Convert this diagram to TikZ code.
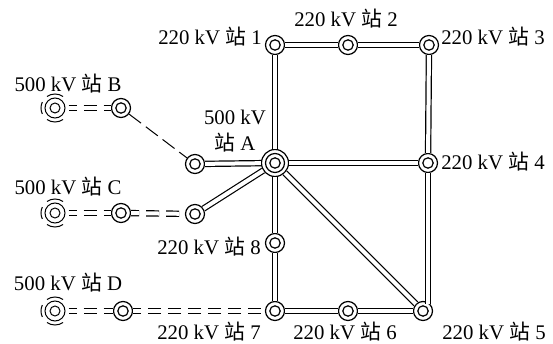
\documentclass[tikz,border=0pt]{standalone}
\usepackage{fontspec}
\setmainfont{Liberation Serif}
\newfontfamily\cjk{Noto Sans CJK SC}
\tikzset{
    station/.style={circle, draw, fill=white, line width=1.2pt, minimum size=19pt, inner sep=0pt,
        path picture={\draw[line width=1.2pt] (path picture bounding box.center) circle (5.2pt);}},
    hub/.style={circle, draw, fill=white, line width=1.2pt, minimum size=27pt, inner sep=0pt,
        path picture={\draw[line width=1.2pt] (path picture bounding box.center) circle (9.5pt);
                      \draw[line width=1.2pt] (path picture bounding box.center) circle (5.2pt);}},
    source/.style={circle, draw, fill=white, line width=1pt, minimum size=20pt, inner sep=0pt,
        path picture={\draw[line width=1pt] (path picture bounding box.center) circle (5pt);}},
    tag/.style={font=\fontsize{20.8}{26}\selectfont, inner sep=0pt, align=center},
    line220/.style={draw, line width=1.2pt, double, double distance=4pt},
    plan/.style={line220, dash pattern=on 13pt off 7pt, dash phase=5pt},
    link/.style={draw, line width=1pt, dash pattern=on 15pt off 6pt}
}
\begin{document}
\begin{tikzpicture}[x=1pt, y=-1pt]
    \useasboundingbox (0,0) rectangle (553,344);

    % Stations of the 220 kV ring
    \node[station] (s1) at (275,45) {};
    \node[station] (s2) at (348,45) {};
    \node[station] (s3) at (429,45) {};
    \node[station] (s4) at (428,163) {};
    \node[station] (s5) at (423,311) {};
    \node[station] (s6) at (348,311) {};
    \node[station] (s7) at (275,311) {};
    \node[station] (s8) at (275,243) {};
    \node[hub] (sA) at (275,163) {};
    \node[station] (jA) at (195,164) {};
    \node[station] (jC) at (195,214) {};

    % Outside 500 kV stations
    \node[source] (sB) at (55,108) {};
    \node[source] (sC) at (55,213) {};
    \node[source] (sD) at (55,311) {};
    \node[station] (mB) at (121,108) {};
    \node[station] (mC) at (121,213) {};
    \node[station] (mD) at (123,311) {};

    % Broken rings round the sources
    \foreach \src in {sB, sC, sD} {
        \draw[line width=1pt] (\src) ++(55:14pt) arc (55:125:14pt);
        \draw[line width=1pt] (\src) ++(155:14pt) arc (155:205:14pt);
        \draw[line width=1pt] (\src) ++(-125:14pt) arc (-125:-55:14pt);
    }

    % Existing lines
    \draw[line220] (s1) -- (s2);
    \draw[line220] (s2) -- (s3);
    \draw[line220] (s1) -- (sA);
    \draw[line220] (s3) -- (s4);
    \draw[line220] (sA) -- (s4);
    \draw[line220] (s4) -- (s4 |- s5.north east);
    \draw[line220] (sA) -- (s8);
    \draw[line220] (s8) -- (s7);
    \draw[line220] (s7) -- (s6);
    \draw[line220] (s6) -- (s5);
    \draw[line220] (sA) -- (s5);
    \draw[line220] (jA) -- (sA);
    \draw[line220] (jC) -- (sA);

    % Planned lines
    \draw[plan, shorten <=3pt] (sB) -- (mB);
    \draw[plan, shorten <=3pt] (sC) -- (mC);
    \draw[plan] (mC) -- (jC);
    \draw[plan, shorten <=3pt] (sD) -- (mD);
    \draw[plan] (mD) -- (s7);
    \draw[link] (mB) -- (jA);

    % Labels
    \node[tag] (t1) at (210,37) {220 kV {\cjk 站} 1};
    \node[tag] (t2) at (346,19) {220 kV {\cjk 站} 2};
    \node[tag] (t3) at (493,37) {220 kV {\cjk 站} 3};
    \node[tag] (t4) at (493,162) {220 kV {\cjk 站} 4};
    \node[tag] (t5) at (494,332) {220 kV {\cjk 站} 5};
    \node[tag] (t6) at (345,332) {220 kV {\cjk 站} 6};
    \node[tag] (t7) at (209,332) {220 kV {\cjk 站} 7};
    \node[tag] (t8) at (209,247) {220 kV {\cjk 站} 8};
    \node[tag] (tA) at (235,131) {500 kV\\{\cjk 站} A};
    \node[tag] (tB) at (68,84) {500 kV {\cjk 站} B};
    \node[tag] (tC) at (68,187) {500 kV {\cjk 站} C};
    \node[tag] (tD) at (68,283) {500 kV {\cjk 站} D};
\end{tikzpicture}
\end{document}
